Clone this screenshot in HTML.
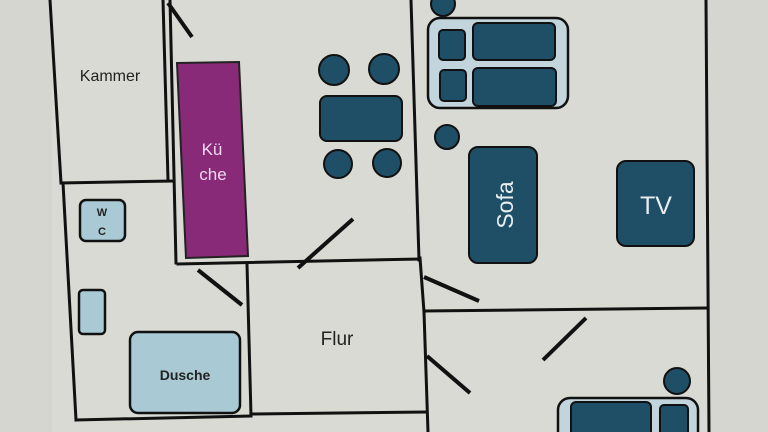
<!DOCTYPE html>
<html><head><meta charset="utf-8"><style>
html,body{margin:0;padding:0;background:#d6d7cf;}
svg{display:block}
text{font-family:"Liberation Sans",sans-serif}
</style></head><body>
<svg width="768" height="432" viewBox="0 0 768 432" xmlns="http://www.w3.org/2000/svg">
<rect width="768" height="432" fill="#d4d6cf"/>
<rect x="52" y="0" width="656" height="432" fill="#d9dad3"/>
<g stroke="#111" stroke-width="3" fill="none" stroke-linecap="square">
<line x1="50" y1="0" x2="61" y2="183"/>
<line x1="163" y1="0" x2="168" y2="180"/>
<line x1="61" y1="183" x2="172" y2="181"/>
<line x1="170" y1="0" x2="176" y2="263"/>
<line x1="63" y1="183" x2="76" y2="420"/>
<line x1="76" y1="420" x2="250" y2="416"/>
<line x1="247" y1="264" x2="251" y2="416"/>
<line x1="178" y1="264" x2="420" y2="259"/>
<line x1="251" y1="414" x2="425" y2="412"/>
<line x1="411" y1="0" x2="419" y2="260"/>
<line x1="420" y1="258" x2="424" y2="312"/>
<line x1="424" y1="312" x2="428" y2="432"/>
<line x1="424" y1="311" x2="706" y2="308"/>
<line x1="706" y1="0" x2="709" y2="432"/>
</g>
<g stroke="#111" stroke-width="4" stroke-linecap="butt">
<line x1="168" y1="3" x2="192" y2="37"/>
<line x1="298" y1="268" x2="353" y2="219"/>
<line x1="198" y1="270" x2="242" y2="305"/>
<line x1="424" y1="277" x2="479" y2="301"/>
<line x1="427" y1="356" x2="470" y2="393"/>
<line x1="543" y1="360" x2="586" y2="318"/>
</g>
<polygon points="177,63 239,62 248,256 186,258" fill="#892a78" stroke="#222" stroke-width="2"/>
<text x="212" y="155" font-size="17" fill="#f0d8ee" text-anchor="middle">Kü</text>
<text x="213" y="180" font-size="17" fill="#f0d8ee" text-anchor="middle">che</text>
<text x="110" y="81" font-size="16" fill="#222" text-anchor="middle">Kammer</text>
<g fill="#1f4f67" stroke="#111" stroke-width="2">
<circle cx="334" cy="70" r="15"/><circle cx="384" cy="69" r="15"/>
<circle cx="338" cy="164" r="14"/><circle cx="387" cy="163" r="14"/>
<rect x="320" y="96" width="82" height="45" rx="7"/>
<circle cx="443" cy="4" r="12"/>
<circle cx="447" cy="137" r="12"/>
</g>
<rect x="428" y="18" width="140" height="90" rx="12" fill="#c2d4dc" stroke="#111" stroke-width="2.5"/>
<g fill="#1f4f67" stroke="#111" stroke-width="2">
<rect x="439" y="30" width="26" height="30" rx="4"/>
<rect x="440" y="70" width="26" height="31" rx="4"/>
<rect x="473" y="23" width="82" height="37" rx="5"/>
<rect x="473" y="68" width="83" height="38" rx="5"/>
<rect x="469" y="147" width="68" height="116" rx="9"/>
<rect x="617" y="161" width="77" height="85" rx="9"/>
<circle cx="677" cy="381" r="13"/>
</g>
<text x="0" y="0" font-size="23" fill="#e8eef0" text-anchor="middle" transform="translate(513,205) rotate(-90)">Sofa</text>
<text x="656" y="214" font-size="25" fill="#e8eef0" text-anchor="middle">TV</text>
<rect x="558" y="398" width="140" height="50" rx="12" fill="#c2d4dc" stroke="#111" stroke-width="2.5"/>
<g fill="#1f4f67" stroke="#111" stroke-width="2">
<rect x="571" y="402" width="80" height="40" rx="5"/>
<rect x="660" y="405" width="28" height="40" rx="4"/>
</g>
<g fill="#a9c9d5" stroke="#111" stroke-width="2.5">
<rect x="80" y="200" width="45" height="41" rx="6"/>
<rect x="79" y="290" width="26" height="44" rx="4"/>
<rect x="130" y="332" width="110" height="81" rx="8"/>
</g>
<text x="102" y="216" font-size="11" fill="#222" text-anchor="middle" font-weight="bold">W</text>
<text x="102" y="235" font-size="11" fill="#222" text-anchor="middle" font-weight="bold">C</text>
<text x="185" y="380" font-size="14" fill="#222" text-anchor="middle" font-weight="bold">Dusche</text>
<text x="337" y="345" font-size="19" fill="#222" text-anchor="middle">Flur</text>
</svg>
</body></html>
